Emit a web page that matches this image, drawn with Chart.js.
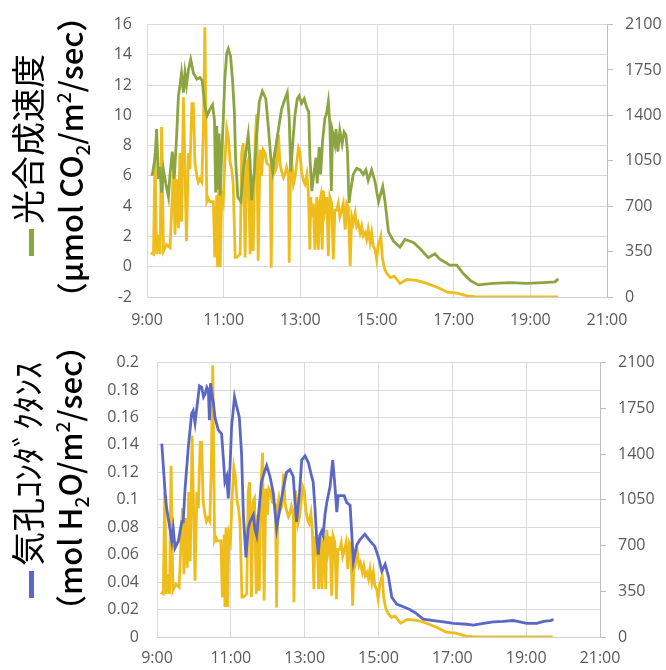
<!DOCTYPE html>
<html>
<head>
<meta charset="utf-8">
<script src="https://cdn.jsdelivr.net/npm/chart.js@4"></script>
<style>
  body { margin: 0; background: #fff; width: 666px; height: 670px; position: relative; overflow: hidden; font-family: "Noto Sans CJK JP", sans-serif; }
  canvas { position: absolute; left: 0; }
  .ttl { position: absolute; white-space: nowrap; line-height: 1; color: #000; transform: translate(-50%, -50%) rotate(-90deg); }
  .unit { font-weight: 500; }
  .mark { display: inline-block; width: 27px; height: 5px; vertical-align: middle; margin-right: 5px; }
  sub, sup { font-size: 0.62em; line-height: 0; }
</style>
</head>
<body>
<canvas id="photoChart" width="666" height="335" style="top:0"></canvas>
<canvas id="condChart" width="666" height="335" style="top:335px"></canvas>

<div class="ttl" style="left:27px; top:155px; font-size:34px;"><span class="mark" style="background:#8da541"></span>光合成速度</div>
<div class="ttl unit" style="left:69px; top:157px; font-size:31px;">（µmol CO<sub>2</sub>/m<sup>2</sup>/sec）</div>
<div class="ttl" style="left:27px; top:480px; font-size:34px;"><span class="mark" style="background:#5b67c4"></span>気孔ｺﾝﾀﾞｸﾀﾝｽ</div>
<div class="ttl unit" style="left:68px; top:478px; font-size:31px;">（mol H<sub>2</sub>O/m<sup>2</sup>/sec）</div>

<script>
// x axis labels (hours 9..21, every 2h)
const timeLabels = ['9:00', '11:00', '13:00', '15:00', '17:00', '19:00', '21:00'];

// light intensity (right axis, both charts)
const parTime = [9.10,9.17,9.21,9.25,9.30,9.34,9.38,9.43,9.51,9.60,9.69,9.73,9.77,9.82,9.86,9.90,9.95,9.99,10.03,10.08,
  10.12,10.17,10.21,10.25,10.30,10.34,10.38,10.43,10.47,10.51,10.56,10.60,10.64,10.73,10.77,10.82,10.84,10.87,10.91,10.95,
  10.99,11.03,11.08,11.12,11.17,11.21,11.25,11.30,11.34,11.43,11.47,11.51,11.56,11.60,11.64,11.69,11.73,11.77,11.82,11.86,
  11.90,11.95,11.99,12.03,12.08,12.12,12.21,12.24,12.27,12.30,12.34,12.38,12.43,12.47,12.51,12.56,12.60,12.64,12.69,12.71,
  12.75,12.77,12.82,12.86,12.90,12.95,12.99,13.03,13.08,13.12,13.17,13.21,13.25,13.27,13.30,13.34,13.38,13.43,13.47,13.50,
  13.53,13.57,13.60,13.64,13.69,13.73,13.77,13.82,13.86,13.90,13.95,13.99,14.03,14.08,14.12,14.17,14.21,14.25,14.30,14.34,
  14.38,14.43,14.47,14.51,14.56,14.60,14.64,14.69,14.73,14.77,14.82,14.86,14.90,14.95,14.99,15.03,15.10,15.14,15.20,15.26,
  15.35,15.45,15.60,15.78,16.04,16.30,16.57,16.83,17.09,17.35,17.60,19.72];
const parValue = [340,330,1110,330,480,330,1310,355,405,380,985,480,910,530,1110,580,1540,985,430,1110,
  985,1490,1490,1035,935,885,910,885,1285,2080,735,760,735,735,305,785,230,835,230,785,
  735,1035,1300,1235,1035,985,860,305,305,330,1110,1185,305,1035,1060,330,935,355,1185,1410,
  280,1135,935,1135,1110,1035,1010,225,1010,1060,970,1000,1250,1020,970,920,945,1000,945,265,
  1120,1075,870,920,1020,1150,1120,970,895,870,945,795,365,770,620,720,365,770,365,720,
  770,365,820,670,770,315,770,720,290,670,670,720,620,670,720,520,720,695,240,620,
  570,645,545,570,495,545,470,495,445,520,420,495,395,365,290,395,470,300,215,180,
  150,160,105,135,128,105,75,38,30,8,0,0];

// photosynthesis rate (left axis, top chart)
const photoTime = [9.10,9.14,9.21,9.25,9.30,9.34,9.38,9.43,9.49,9.56,9.60,9.66,9.71,9.77,9.82,9.86,9.90,9.95,9.99,10.03,
  10.08,10.14,10.21,10.30,10.38,10.44,10.51,10.57,10.64,10.71,10.76,10.79,10.82,10.84,10.88,10.91,10.95,10.99,11.03,11.08,
  11.12,11.18,11.23,11.28,11.31,11.37,11.45,11.51,11.56,11.64,11.69,11.73,11.80,11.86,11.93,12.01,12.10,12.17,12.23,12.28,
  12.34,12.43,12.51,12.60,12.66,12.71,12.75,12.80,12.86,12.92,12.97,13.03,13.10,13.17,13.22,13.25,13.30,13.36,13.41,13.44,
  13.49,13.53,13.58,13.64,13.69,13.73,13.77,13.81,13.84,13.90,13.93,13.98,14.03,14.09,14.14,14.19,14.23,14.27,14.31,14.38,
  14.47,14.56,14.64,14.71,14.77,14.86,14.95,14.99,15.04,15.15,15.21,15.30,15.43,15.60,15.73,15.95,16.12,16.34,16.51,16.64,
  16.90,17.08,17.25,17.43,17.64,18.03,18.47,18.90,19.34,19.64,19.73];
const photoValue = [6.1,6.1,7.2,9.1,5.8,6.6,4.9,6.4,5.5,4.6,6.1,7.6,5.8,8.5,11.3,12.0,12.8,11.5,12.8,12.0,
  13.0,13.7,12.8,12.4,12.5,12.3,10.6,10.0,10.4,10.7,9.7,4.9,9.3,5.1,8.8,4.7,7.6,9.7,12.4,14.1,
  14.4,13.9,12.4,10.2,7.2,4.6,4.3,6.4,7.2,8.7,6.9,4.4,6.3,8.7,10.9,11.6,11.1,9.1,7.2,6.3,
  7.6,9.1,10.4,11.1,11.5,9.8,6.3,8.1,10.0,11.1,11.3,10.8,11.1,10.5,10.2,7.2,5.0,6.3,7.2,5.5,
  7.9,6.1,8.3,9.8,10.2,10.9,9.4,5.0,8.9,8.1,9.1,7.6,9.0,8.1,8.9,8.7,7.6,4.2,5.0,6.1,
  6.5,6.4,6.1,6.4,5.7,6.4,5.6,5.0,4.3,5.3,4.3,2.3,1.7,1.3,1.8,1.6,1.2,0.6,0.85,0.5,
  0.1,0.1,-0.45,-0.9,-1.2,-1.1,-1.05,-1.1,-1.05,-1.0,-0.8];

// stomatal conductance (left axis, bottom chart)
const condTime = [9.13,9.22,9.26,9.35,9.40,9.44,9.49,9.58,9.67,9.71,9.76,9.85,9.94,9.98,10.03,10.07,10.15,10.21,10.26,10.30,
  10.35,10.39,10.42,10.45,10.53,10.57,10.66,10.75,10.80,10.84,10.89,10.93,10.98,11.02,11.10,11.16,11.23,11.29,11.34,11.41,
  11.47,11.52,11.61,11.65,11.70,11.74,11.83,11.93,11.97,12.06,12.15,12.24,12.33,12.42,12.51,12.60,12.69,12.74,12.78,12.86,
  12.92,13.01,13.10,13.19,13.23,13.28,13.32,13.37,13.41,13.46,13.50,13.55,13.60,13.69,13.76,13.82,13.87,13.91,14.00,14.07,
  14.14,14.23,14.32,14.41,14.50,14.63,14.77,14.90,15.00,15.09,15.18,15.27,15.36,15.49,15.67,15.85,16.03,16.21,16.49,16.76,
  17.03,17.39,17.57,17.84,18.11,18.38,18.65,18.83,19.01,19.29,19.47,19.65,19.74];
const condValue = [0.141,0.105,0.094,0.079,0.070,0.079,0.065,0.070,0.084,0.084,0.108,0.139,0.163,0.165,0.156,0.165,0.183,0.182,0.175,0.177,
  0.182,0.180,0.158,0.185,0.170,0.160,0.151,0.148,0.129,0.113,0.117,0.101,0.125,0.153,0.175,0.168,0.160,0.134,0.089,0.058,
  0.079,0.084,0.089,0.079,0.074,0.086,0.113,0.122,0.125,0.117,0.105,0.079,0.094,0.108,0.120,0.122,0.117,0.098,0.084,0.105,
  0.129,0.132,0.127,0.117,0.113,0.094,0.074,0.060,0.074,0.077,0.074,0.089,0.098,0.110,0.129,0.110,0.091,0.103,0.103,0.103,
  0.098,0.096,0.055,0.067,0.071,0.075,0.070,0.066,0.058,0.048,0.053,0.044,0.029,0.024,0.022,0.020,0.017,0.013,0.012,0.011,
  0.010,0.0093,0.0086,0.010,0.011,0.0114,0.012,0.011,0.010,0.010,0.0114,0.012,0.0126];

const COLORS = {
    light: '#eebd1b',
    photo: '#8da541',
    cond: '#5b67c4',
    grid: '#d9d9d9',
    axis: '#bfbfbf',
    tick: '#595959'
};

const TICK_FONT = { family: "'Open Sans', sans-serif", size: 16 };

function toPoints(xs, ys) {
    return xs.map((x, i) => ({ x: x, y: ys[i] }));
}

function lineSet(xs, ys, color, axis) {
    return {
        data: toPoints(xs, ys),
        borderColor: color,
        borderWidth: 2.8,
        pointRadius: 0,
        tension: 0,
        yAxisID: axis
    };
}

/**
 * Build one panel: left series + light on the right axis
 */
function makeChart(id, series, color, left, dims) {
    const ctx = document.getElementById(id);
    return new Chart(ctx, {
        type: 'line',
        data: {
            datasets: [
                lineSet(series.x, series.y, color, 'y'),
                lineSet(parTime, parValue, COLORS.light, 'y1')
            ]
        },
        options: {
            responsive: false,
            animation: false,
            layout: { padding: { top: dims.top, left: 0, right: 0, bottom: 0 } },
            plugins: { legend: { display: false }, tooltip: { enabled: false } },
            scales: {
                x: {
                    type: 'linear',
                    min: 9,
                    max: 21,
                    afterFit: s => { s.height = dims.xh; },
                    grid: { color: COLORS.grid, drawTicks: false },
                    border: { color: '#d0d0d0' },
                    ticks: {
                        stepSize: 2,
                        color: COLORS.tick,
                        font: TICK_FONT,
                        padding: dims.xpad,
                        maxRotation: 0,
                        callback: v => timeLabels[(v - 9) / 2]
                    }
                },
                y: {
                    position: 'left',
                    min: left.min,
                    max: left.max,
                    afterFit: s => { s.width = dims.lw; },
                    grid: { color: COLORS.grid, drawTicks: false },
                    border: { color: COLORS.grid },
                    ticks: {
                        stepSize: left.step,
                        color: COLORS.tick,
                        font: TICK_FONT,
                        padding: dims.lpad,
                        callback: v => String(+v.toFixed(2))
                    }
                },
                y1: {
                    position: 'right',
                    min: 0,
                    max: 2100,
                    afterFit: s => { s.width = dims.rw; },
                    grid: { drawOnChartArea: false, color: COLORS.axis, tickLength: 6 },
                    border: { color: COLORS.axis },
                    ticks: {
                        stepSize: 350,
                        color: COLORS.tick,
                        font: TICK_FONT,
                        padding: 12,
                        callback: v => String(v)
                    }
                }
            }
        }
    });
}

makeChart('photoChart', { x: photoTime, y: photoValue }, COLORS.photo,
    { min: -2, max: 16, step: 2 },
    { top: 19, xh: 38, xpad: 14, lw: 147, lpad: 15, rw: 59 });

makeChart('condChart', { x: condTime, y: condValue }, COLORS.cond,
    { min: 0, max: 0.2, step: 0.02 },
    { top: 23, xh: 33, xpad: 12, lw: 157, lpad: 18, rw: 66 });
</script>
</body>
</html>
